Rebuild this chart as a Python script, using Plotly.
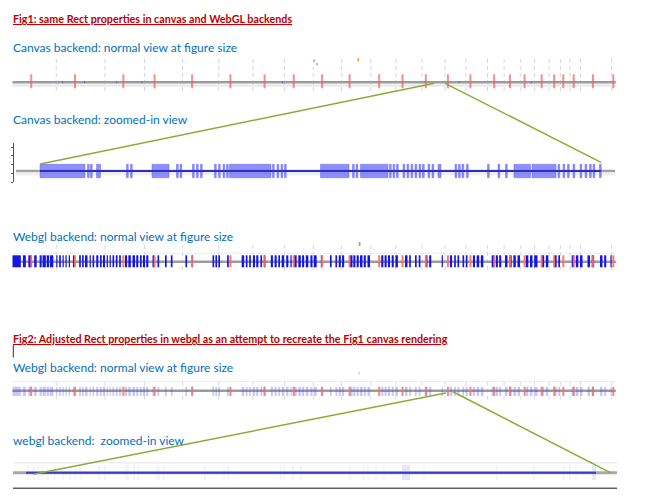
import plotly.graph_objects as go

W, H = 651, 500

# ---------------- data ----------------
# Whole-track ("normal view") features, position in kb
track_start, track_end = 30, 1478
red_features = [75, 180, 296, 371, 461, 553, 635, 705, 773, 839, 910, 966, 1022, 1075,
                1129, 1186, 1224, 1259, 1300, 1330, 1352, 1377, 1423, 1472]
grid_positions = [135, 252, 347, 438, 525, 607, 683, 752, 820, 890, 950, 1013, 1068, 1118,
                  1170, 1210, 1250, 1283, 1318, 1345, 1368, 1393, 1468]
blue_starts = [30, 55, 68, 82, 95, 102, 112, 120, 135, 142, 150, 157, 165, 175, 190, 197, 204,
               215, 222, 231, 240, 247, 256, 263, 270, 278, 286, 300, 308, 318, 327, 336, 343,
               351, 366, 378, 396, 410, 445, 460, 510, 517, 524, 545, 580, 590, 598, 607, 615,
               625, 633, 650, 659, 668, 676, 687, 697, 706, 716, 725, 734, 745, 753, 770, 792,
               805, 813, 821, 840, 848, 856, 864, 873, 882, 915, 923, 931, 940, 949, 972, 982,
               996, 1005, 1022, 1030, 1060, 1080, 1090, 1098, 1110, 1118, 1135, 1144, 1154,
               1180, 1190, 1198, 1212, 1222, 1232, 1242, 1262, 1272, 1282, 1300, 1310, 1330,
               1340, 1372, 1382, 1392, 1410, 1420, 1440, 1450, 1465]
blue_ends = [50, 62, 76, 88, 100, 110, 118, 128, 138, 146, 153, 160, 168, 178, 194, 201, 210,
             218, 226, 236, 244, 252, 259, 266, 274, 282, 290, 305, 314, 324, 332, 340, 348,
             356, 370, 382, 400, 414, 449, 463, 514, 521, 528, 549, 586, 594, 602, 612, 620,
             629, 637, 655, 664, 672, 682, 692, 700, 712, 722, 730, 740, 750, 760, 773, 796,
             809, 818, 826, 846, 853, 861, 870, 878, 888, 920, 928, 936, 945, 955, 978, 986,
             1000, 1009, 1026, 1035, 1063, 1085, 1094, 1102, 1114, 1122, 1140, 1150, 1160,
             1186, 1195, 1203, 1218, 1228, 1238, 1248, 1268, 1278, 1290, 1306, 1316, 1336,
             1344, 1378, 1388, 1398, 1416, 1426, 1446, 1455, 1468]
canvas_dots = [150, 203, 280, 341, 678, 1102, 1275]
orange_feature = 860
light_blue_features = [754, 761]

# Fig1 zoomed-in view: bp offset from region start
zoom1_len = 11220
zoom1_block_starts = [0, 1130, 2240, 3790, 5610, 6410, 7960, 9480, 9840]
zoom1_block_ends = [900, 1210, 2580, 4620, 6180, 6960, 8020, 9810, 10320]
zoom1_thin = [950, 1010, 1730, 1810, 2730, 2800, 3050, 3130, 3210, 3490, 3570, 3660, 3730,
              4650, 4740, 4820, 4890, 6250, 6320, 6990, 7060, 7130, 7260, 7340, 7420, 7500,
              7580, 7650, 7760, 7840, 8300, 8370, 8440, 8530, 8950, 9160, 9310, 10360, 10460,
              10550, 10660, 10800, 10900, 10990, 11060, 11190]
thin_width = 35

# Fig2 zoomed-in view: bp offset from region start
zoom2_len = 11400
zoom2_block_starts = [7520, 11320]
zoom2_block_ends = [7680, 11400]
zoom2_thin = [20, 140, 230, 314, 414, 546, 730, 856, 960, 1060, 1440, 1560, 1980, 2020, 2140,
              2230, 2600, 2640, 2730, 3560, 3940, 4020, 5080, 5140, 5320, 5480, 6460, 6730,
              6820, 6980, 7140, 7940, 9400, 10140, 10730, 10860, 10980]

titles = ["Fig1: same Rect properties in canvas and WebGL backends",
          "Fig2: Adjusted Rect properties in webgl as an attempt to recreate the Fig1 canvas rendering"]
headings = ["Canvas backend: normal view at figure size",
            "Canvas backend: zoomed-in view",
            "Webgl backend: normal view at figure size",
            "Webgl backend: normal view at figure size",
            "webgl backend:  zoomed-in view"]

# ---------------- helpers ----------------
def py(y):
    return 1 - y / H

def pxp(x):
    return x / W

shapes = []

def rect(xref, x0, x1, y0, y1, fill, line=None, lw=0):
    shapes.append(dict(type="rect", xref=xref, yref="paper", x0=x0, x1=x1,
                       y0=py(y1), y1=py(y0), fillcolor=fill,
                       line=dict(color=line or "rgba(0,0,0,0)", width=lw)))

def seg(xref, x0, y0, x1, y1, color, width, dash=None):
    ln = dict(color=color, width=width)
    if dash:
        ln["dash"] = dash
    shapes.append(dict(type="line", xref=xref, yref="paper", x0=x0, x1=x1,
                       y0=py(y0), y1=py(y1), line=ln))

def pseg(x0, y0, x1, y1, color, width):
    shapes.append(dict(type="line", xref="paper", yref="paper", x0=pxp(x0), x1=pxp(x1),
                       y0=py(y0), y1=py(y1), line=dict(color=color, width=width)))

# ---------------- Panel 1: canvas normal view ----------------
for g in grid_positions:
    seg("x", g, 59, g, 93, "#d6d6d6", 1, "4px,3px")
seg("x", track_start, 85.5, track_end, 85.5, "#e6e6e6", 2)
seg("x", track_start, 82.3, track_end, 82.3, "#9c9c9c", 2.5)
for d in canvas_dots:
    rect("x", d - 1.2, d + 1.2, 81.3, 83.3, "#5a5ad0")
for r in red_features:
    seg("x", r, 74.3, r, 88.3, "rgba(238,96,96,0.7)", 2)
rect("x", orange_feature - 2, orange_feature + 2, 58, 61.5, "#f5a050")
rect("x", light_blue_features[0] - 2, light_blue_features[0] + 2, 59.5, 62, "#93b9ef")
rect("x", light_blue_features[1] - 2, light_blue_features[1] + 2, 63, 65.5, "#93b9ef")

# ---------------- Panel 2: canvas zoomed-in view ----------------
pseg(16, 174.3, 615, 174.3, "#ececec", 2)
pseg(16, 171, 615, 171, "#a2a2a2", 2.5)
zfill, zline = "rgba(90,90,248,0.68)", "rgba(90,90,248,0.45)"
for s, e in zip(zoom1_block_starts, zoom1_block_ends):
    rect("x2", s, e, 164.3, 177.7, zfill, zline, 1)
for t in zoom1_thin:
    rect("x2", t, t + thin_width, 164.3, 177.7, zfill, zline, 1)
seg("x2", 0, 171, zoom1_len, 171, "#2e2eb8", 2)

# ---------------- Panel 3: webgl normal view ----------------
seg("x", track_start, 253.3, track_end, 253.3, "#eeeeee", 1)
for g in grid_positions:
    seg("x", g, 245, g, 272, "#dadada", 1, "4px,3px")
seg("x", track_start, 261.7, track_end, 261.7, "#9c9c9c", 2.5)
for s, e in zip(blue_starts, blue_ends):
    rect("x", s, e, 255.3, 267.3, "#1616e2")
for r in red_features:
    seg("x", r, 255.3, r, 267.3, "rgba(255,105,105,0.9)", 2)
rect("x", orange_feature + 1, orange_feature + 5, 242, 246, "#f08848")

# ---------------- Panel 4: Fig2 webgl normal view ----------------
seg("x", track_start, 381.7, track_end, 381.7, "#ececec", 1)
for g in grid_positions:
    seg("x", g, 381.7, g, 401, "#dcdcdc", 1, "4px,3px")
seg("x", track_start, 390.7, track_end, 390.7, "#9c9c9c", 2.5)
for s, e in zip(blue_starts, blue_ends):
    rect("x", s, e, 386.7, 396, "rgba(70,70,240,0.3)")
for r in red_features:
    seg("x", r, 386.7, r, 396, "rgba(240,110,110,0.8)", 2)
rect("x", orange_feature, orange_feature + 4, 372, 374.5, "#f9cba4")

# ---------------- Panel 5: Fig2 webgl zoomed-in view ----------------
pseg(13, 462.7, 617, 462.7, "#eeeeee", 1.5)
for s, e in zip(zoom2_block_starts, zoom2_block_ends):
    rect("x3", s, e, 465, 480, "rgba(200,200,255,0.45)")
for t in zoom2_thin:
    rect("x3", t, t + 40, 465, 480, "rgba(210,210,255,0.25)")
pseg(13, 472.7, 617, 472.7, "#a8a8a8", 3)
seg("x3", 0, 472.7, zoom2_len, 472.7, "#3c3cc2", 2)
pseg(13, 488.3, 617, 488.3, "#606060", 1.5)

# cursor
pseg(13.3, 345, 13.3, 357.5, "#333333", 1)

# ---------------- connectors ----------------
green = "#86ae36"
pseg(434.3, 83.3, 40.3, 164, green, 1.5)
pseg(445, 83.3, 601, 162.3, green, 1.5)
pseg(446, 393, 33.3, 474.3, green, 1.5)
pseg(452.5, 391.5, 610.4, 472.7, green, 1.5)

# ---------------- texts ----------------
FONT = "Lato"
ann = []
def text(y, s, color, size):
    ann.append(dict(xref="paper", yref="paper", x=pxp(10.5), y=py(y), xanchor="left",
                    yanchor="middle", showarrow=False, text=s,
                    font=dict(family=FONT, size=size, color=color)))

text(18, "<b><u>" + titles[0] + "</u></b>", "#c00000", 10.75)
text(48, headings[0], "#0070c0", 12)
text(119, headings[1], "#0070c0", 12)
text(236, headings[2], "#0070c0", 12)
text(338, "<b><u>" + titles[1] + "</u></b>", "#c00000", 10.75)
text(367, headings[3], "#0070c0", 12)
text(440.5, headings[4], "#0070c0", 12)

# ---------------- figure ----------------
fig = go.Figure()
fig.add_trace(go.Scatter(x=[track_start, track_end], y=[0, 0], mode="markers",
                         marker=dict(opacity=0), hoverinfo="skip", showlegend=False,
                         xaxis="x", yaxis="y"))
fig.add_trace(go.Scatter(x=[0, zoom1_len], y=[0, 0], mode="markers",
                         marker=dict(opacity=0), hoverinfo="skip", showlegend=False,
                         xaxis="x2", yaxis="y2"))
fig.add_trace(go.Scatter(x=[0, zoom2_len], y=[0, 0], mode="markers",
                         marker=dict(opacity=0), hoverinfo="skip", showlegend=False,
                         xaxis="x3", yaxis="y3"))

hidden = dict(visible=False, showgrid=False, zeroline=False, fixedrange=True)
fig.update_layout(
    width=W, height=H,
    margin=dict(l=0, r=0, t=0, b=0),
    paper_bgcolor="white", plot_bgcolor="rgba(0,0,0,0)",
    showlegend=False,
    xaxis=dict(domain=[0, 1], range=[0, W * 2.4], anchor="y", **hidden),
    yaxis=dict(domain=[0.8, 0.85], range=[-1, 1], anchor="x", **hidden),
    xaxis2=dict(domain=[0, 1], range=[-40 * 20, (W - 40) * 20], anchor="y2", **hidden),
    yaxis2=dict(domain=[1 - 182 / H, 1 - 142.9 / H], range=[0, 4.5], anchor="free",
                position=13.3 / W, side="left", dtick=1, tick0=0, ticks="outside",
                ticklen=2, tickwidth=1, tickcolor="#555", showline=True, linecolor="#555",
                linewidth=1, showticklabels=False, showgrid=False, zeroline=False,
                fixedrange=True),
    xaxis3=dict(domain=[0, 1], range=[-26 * 20, (W - 26) * 20], anchor="y3", **hidden),
    yaxis3=dict(domain=[0.0, 0.05], range=[-1, 1], anchor="x3", **hidden),
    shapes=shapes,
    annotations=ann,
)

fig.write_html("out.html")
